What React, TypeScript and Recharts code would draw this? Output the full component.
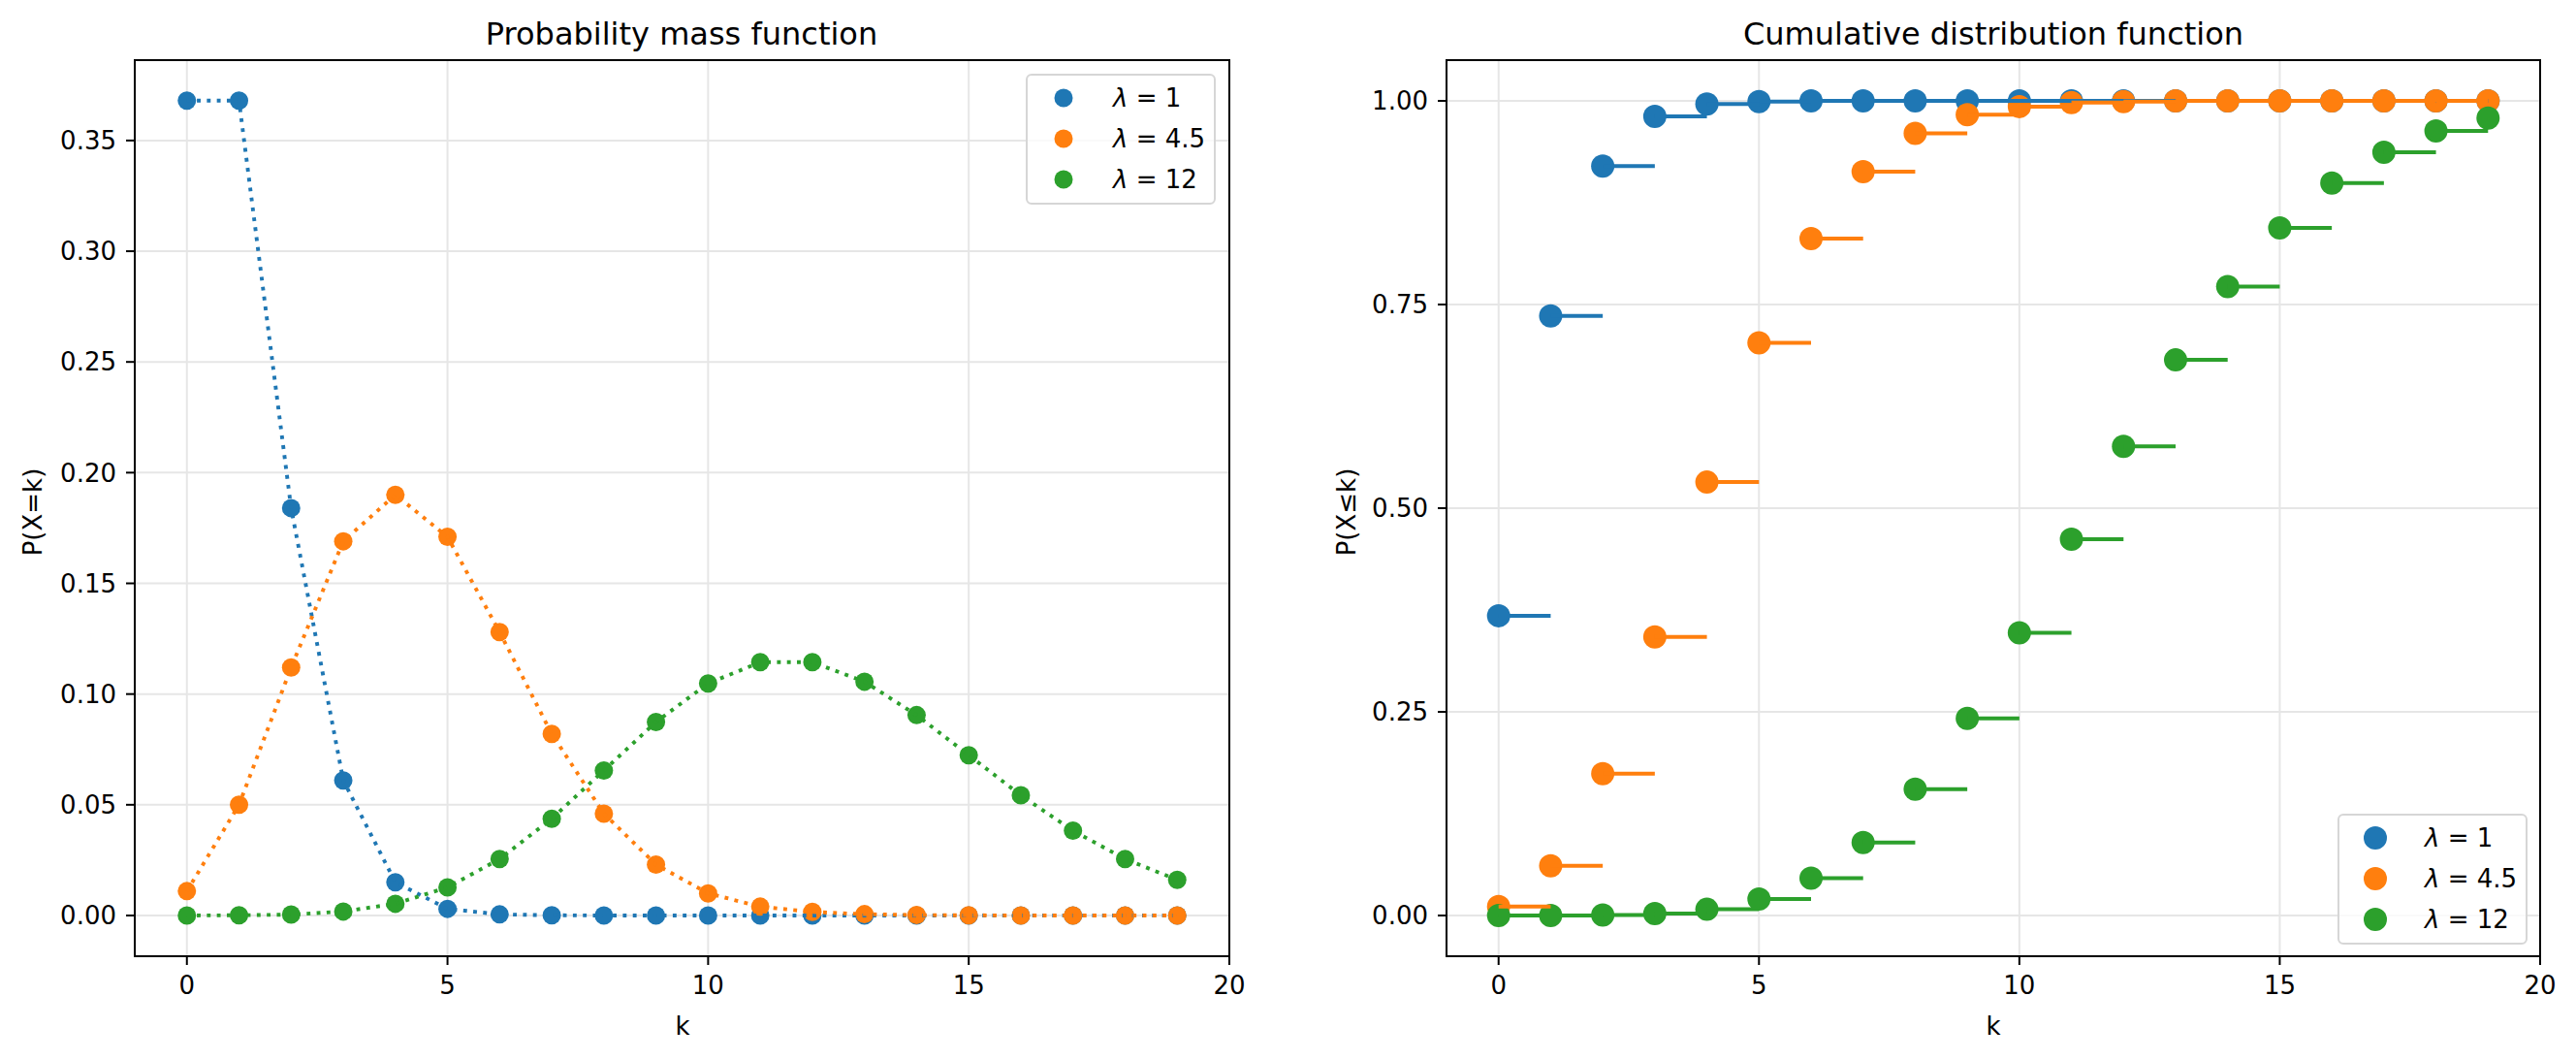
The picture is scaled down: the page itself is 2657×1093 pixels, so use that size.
import React from 'react';
import { ComposedChart, Scatter, Line, XAxis, YAxis, CartesianGrid, ReferenceArea } from 'recharts';

// k values shared by every series
const ks = [0, 1, 2, 3, 4, 5, 6, 7, 8, 9, 10, 11, 12, 13, 14, 15, 16, 17, 18, 19];

// probability mass function
const pmfLam1 = [0.368, 0.368, 0.184, 0.061, 0.015, 0.003, 0.0005, 0.0001, 0, 0, 0, 0, 0, 0, 0, 0, 0, 0, 0, 0];
const pmfLam45 = [0.011, 0.05, 0.112, 0.169, 0.19, 0.171, 0.128, 0.082, 0.046, 0.023, 0.01, 0.004, 0.0016, 0.0006, 0.0002, 0.0001, 0, 0, 0, 0];
const pmfLam12 = [0.00001, 0.0001, 0.0004, 0.0018, 0.0053, 0.0127, 0.0255, 0.0437, 0.0655, 0.0874, 0.1048, 0.1144, 0.1144, 0.1056, 0.0905, 0.0724, 0.0543, 0.0383, 0.0255, 0.0161];

// cumulative distribution function
const cdfLam1 = [0.368, 0.736, 0.92, 0.981, 0.996, 0.999, 1, 1, 1, 1, 1, 1, 1, 1, 1, 1, 1, 1, 1, 1];
const cdfLam45 = [0.011, 0.061, 0.174, 0.342, 0.532, 0.703, 0.831, 0.913, 0.96, 0.983, 0.993, 0.998, 0.999, 1, 1, 1, 1, 1, 1, 1];
const cdfLam12 = [0.00001, 0.0001, 0.0005, 0.0023, 0.0076, 0.0203, 0.0458, 0.0895, 0.155, 0.242, 0.347, 0.462, 0.576, 0.682, 0.772, 0.844, 0.899, 0.937, 0.963, 0.979];

const lambdas = ['1', '4.5', '12'];
const colors = ['#1f77b4', '#ff7f0e', '#2ca02c'];

const xTicks = [0, 5, 10, 15, 20];
const pmfTicks = [0, 0.05, 0.1, 0.15, 0.2, 0.25, 0.3, 0.35];
const cdfTicks = [0, 0.25, 0.5, 0.75, 1];

const FONT = '"DejaVu Sans", Verdana, sans-serif';
const PMF_DOMAIN = [-0.0184, 0.3863];
const CDF_DOMAIN = [-0.05, 1.05];

const points = (vals: number[]) => ks.map((k, i) => ({ k, v: vals[i] }));
// horizontal segment from k to k+1 at each value, broken by null
const steps = (vals: number[]) =>
    ks.slice(0, -1).flatMap((k, i) => [
        { k, v: vals[i] },
        { k: ks[i + 1], v: vals[i] },
        { k: ks[i + 1], v: null },
    ]);

const pmfSeries = [pmfLam1, pmfLam45, pmfLam12];
const cdfSeries = [cdfLam1, cdfLam45, cdfLam12];

const tickStyle = { fill: '#000', fontSize: 26, fontFamily: FONT };
const tickLine = { stroke: '#000', strokeWidth: 2 };

function dot(color: string, r: number) {
    return (p: any) => <circle cx={p.cx} cy={p.cy} r={r} fill={color} />;
}

function LegendBox({ left, top, r }: { left: number; top: number; r: number }) {
    return (
        <div
            style={{
                position: 'absolute',
                left,
                top,
                width: 196,
                height: 135,
                boxSizing: 'border-box',
                border: '2px solid #d6d6d6',
                borderRadius: 6,
                background: 'rgba(255,255,255,0.8)',
                paddingTop: 2,
                fontFamily: FONT,
                fontSize: 26,
            }}
        >
            {lambdas.map((l, i) => (
                <div key={l} style={{ display: 'flex', alignItems: 'center', height: 42 }}>
                    <svg width={88} height={42} style={{ flex: 'none' }}>
                        <circle cx={37} cy={21} r={r} fill={colors[i]} />
                    </svg>
                    <span>
                        <span style={{ fontStyle: 'italic' }}>λ</span> = {l}
                    </span>
                </div>
            ))}
        </div>
    );
}

const textBase: React.CSSProperties = { position: 'absolute', fontFamily: FONT, color: '#000', lineHeight: 1, whiteSpace: 'nowrap' };

function Title({ cx, text }: { cx: number; text: string }) {
    return <div style={{ ...textBase, left: cx - 400, width: 800, top: 19, fontSize: 32, textAlign: 'center' }}>{text}</div>;
}

function XLabel({ cx }: { cx: number }) {
    return <div style={{ ...textBase, left: cx - 50, width: 100, top: 1045, fontSize: 26, textAlign: 'center' }}>k</div>;
}

function YLabel({ cx, text }: { cx: number; text: string }) {
    return (
        <div
            style={{
                ...textBase,
                left: cx - 150,
                width: 300,
                top: 528 - 13,
                fontSize: 26,
                textAlign: 'center',
                transform: 'rotate(-90deg)',
            }}
        >
            {text}
        </div>
    );
}

export default function App() {
    return (
        <div style={{ position: 'absolute', left: 0, top: 0, width: 2657, height: 1093, background: '#fff', overflow: 'hidden' }}>
            <div style={{ position: 'absolute', left: 0, top: 0 }}>
                <ComposedChart width={1380} height={1093} margin={{ top: 62, right: 112, left: 0, bottom: 0 }}>
                    <CartesianGrid stroke="#e6e6e6" strokeWidth={2} />
                    <XAxis
                        type="number"
                        dataKey="k"
                        domain={[-1, 20]}
                        ticks={xTicks}
                        interval={0}
                        allowDataOverflow
                        height={107}
                        axisLine={false}
                        tickLine={tickLine}
                        tickSize={9}
                        tickMargin={12}
                        tick={tickStyle}
                    />
                    <YAxis
                        type="number"
                        dataKey="v"
                        domain={PMF_DOMAIN}
                        ticks={pmfTicks}
                        interval={0}
                        allowDataOverflow
                        width={139}
                        axisLine={false}
                        tickLine={tickLine}
                        tickSize={9}
                        tickMargin={10}
                        tick={tickStyle}
                        tickFormatter={(v: number) => v.toFixed(2)}
                    />
                    {pmfSeries.map((vals, i) => (
                        <Scatter
                            key={'s' + i}
                            data={points(vals)}
                            dataKey="v"
                            shape={dot(colors[i], 9.5)}
                            isAnimationActive={false}
                            zIndex={350}
                        />
                    ))}
                    {pmfSeries.map((vals, i) => (
                        <Line
                            key={'l' + i}
                            data={points(vals)}
                            dataKey="v"
                            type="linear"
                            stroke={colors[i]}
                            strokeWidth={3.9}
                            strokeDasharray="3.9 6.4"
                            dot={false}
                            activeDot={false}
                            isAnimationActive={false}
                        />
                    ))}
                    <ReferenceArea
                        x1={-1}
                        x2={20}
                        y1={PMF_DOMAIN[0]}
                        y2={PMF_DOMAIN[1]}
                        fill="none"
                        fillOpacity={0}
                        stroke="#000"
                        strokeWidth={2}
                        ifOverflow="visible"
                    />
                </ComposedChart>
            </div>

            <div style={{ position: 'absolute', left: 1380, top: 0 }}>
                <ComposedChart width={1277} height={1093} margin={{ top: 62, right: 37, left: 0, bottom: 0 }}>
                    <CartesianGrid stroke="#e6e6e6" strokeWidth={2} />
                    <XAxis
                        type="number"
                        dataKey="k"
                        domain={[-1, 20]}
                        ticks={xTicks}
                        interval={0}
                        allowDataOverflow
                        height={107}
                        axisLine={false}
                        tickLine={tickLine}
                        tickSize={9}
                        tickMargin={12}
                        tick={tickStyle}
                    />
                    <YAxis
                        type="number"
                        dataKey="v"
                        domain={CDF_DOMAIN}
                        ticks={cdfTicks}
                        interval={0}
                        allowDataOverflow
                        width={112}
                        axisLine={false}
                        tickLine={tickLine}
                        tickSize={9}
                        tickMargin={10}
                        tick={tickStyle}
                        tickFormatter={(v: number) => v.toFixed(2)}
                    />
                    {cdfSeries.map((vals, i) => (
                        <Scatter
                            key={'s' + i}
                            data={points(vals)}
                            dataKey="v"
                            shape={dot(colors[i], 12)}
                            isAnimationActive={false}
                            zIndex={350}
                        />
                    ))}
                    {cdfSeries.map((vals, i) => (
                        <Line
                            key={'l' + i}
                            data={steps(vals)}
                            dataKey="v"
                            type="linear"
                            stroke={colors[i]}
                            strokeWidth={4}
                            dot={false}
                            activeDot={false}
                            connectNulls={false}
                            isAnimationActive={false}
                        />
                    ))}
                    <ReferenceArea
                        x1={-1}
                        x2={20}
                        y1={CDF_DOMAIN[0]}
                        y2={CDF_DOMAIN[1]}
                        fill="none"
                        fillOpacity={0}
                        stroke="#000"
                        strokeWidth={2}
                        ifOverflow="visible"
                    />
                </ComposedChart>
            </div>

            <Title cx={703} text="Probability mass function" />
            <Title cx={2056} text="Cumulative distribution function" />
            <XLabel cx={704} />
            <XLabel cx={2056} />
            <YLabel cx={34} text="P(X=k)" />
            <YLabel cx={1389} text="P(X≤k)" />
            <LegendBox left={1058} top={76} r={9.5} />
            <LegendBox left={2411} top={839} r={12} />
        </div>
    );
}
